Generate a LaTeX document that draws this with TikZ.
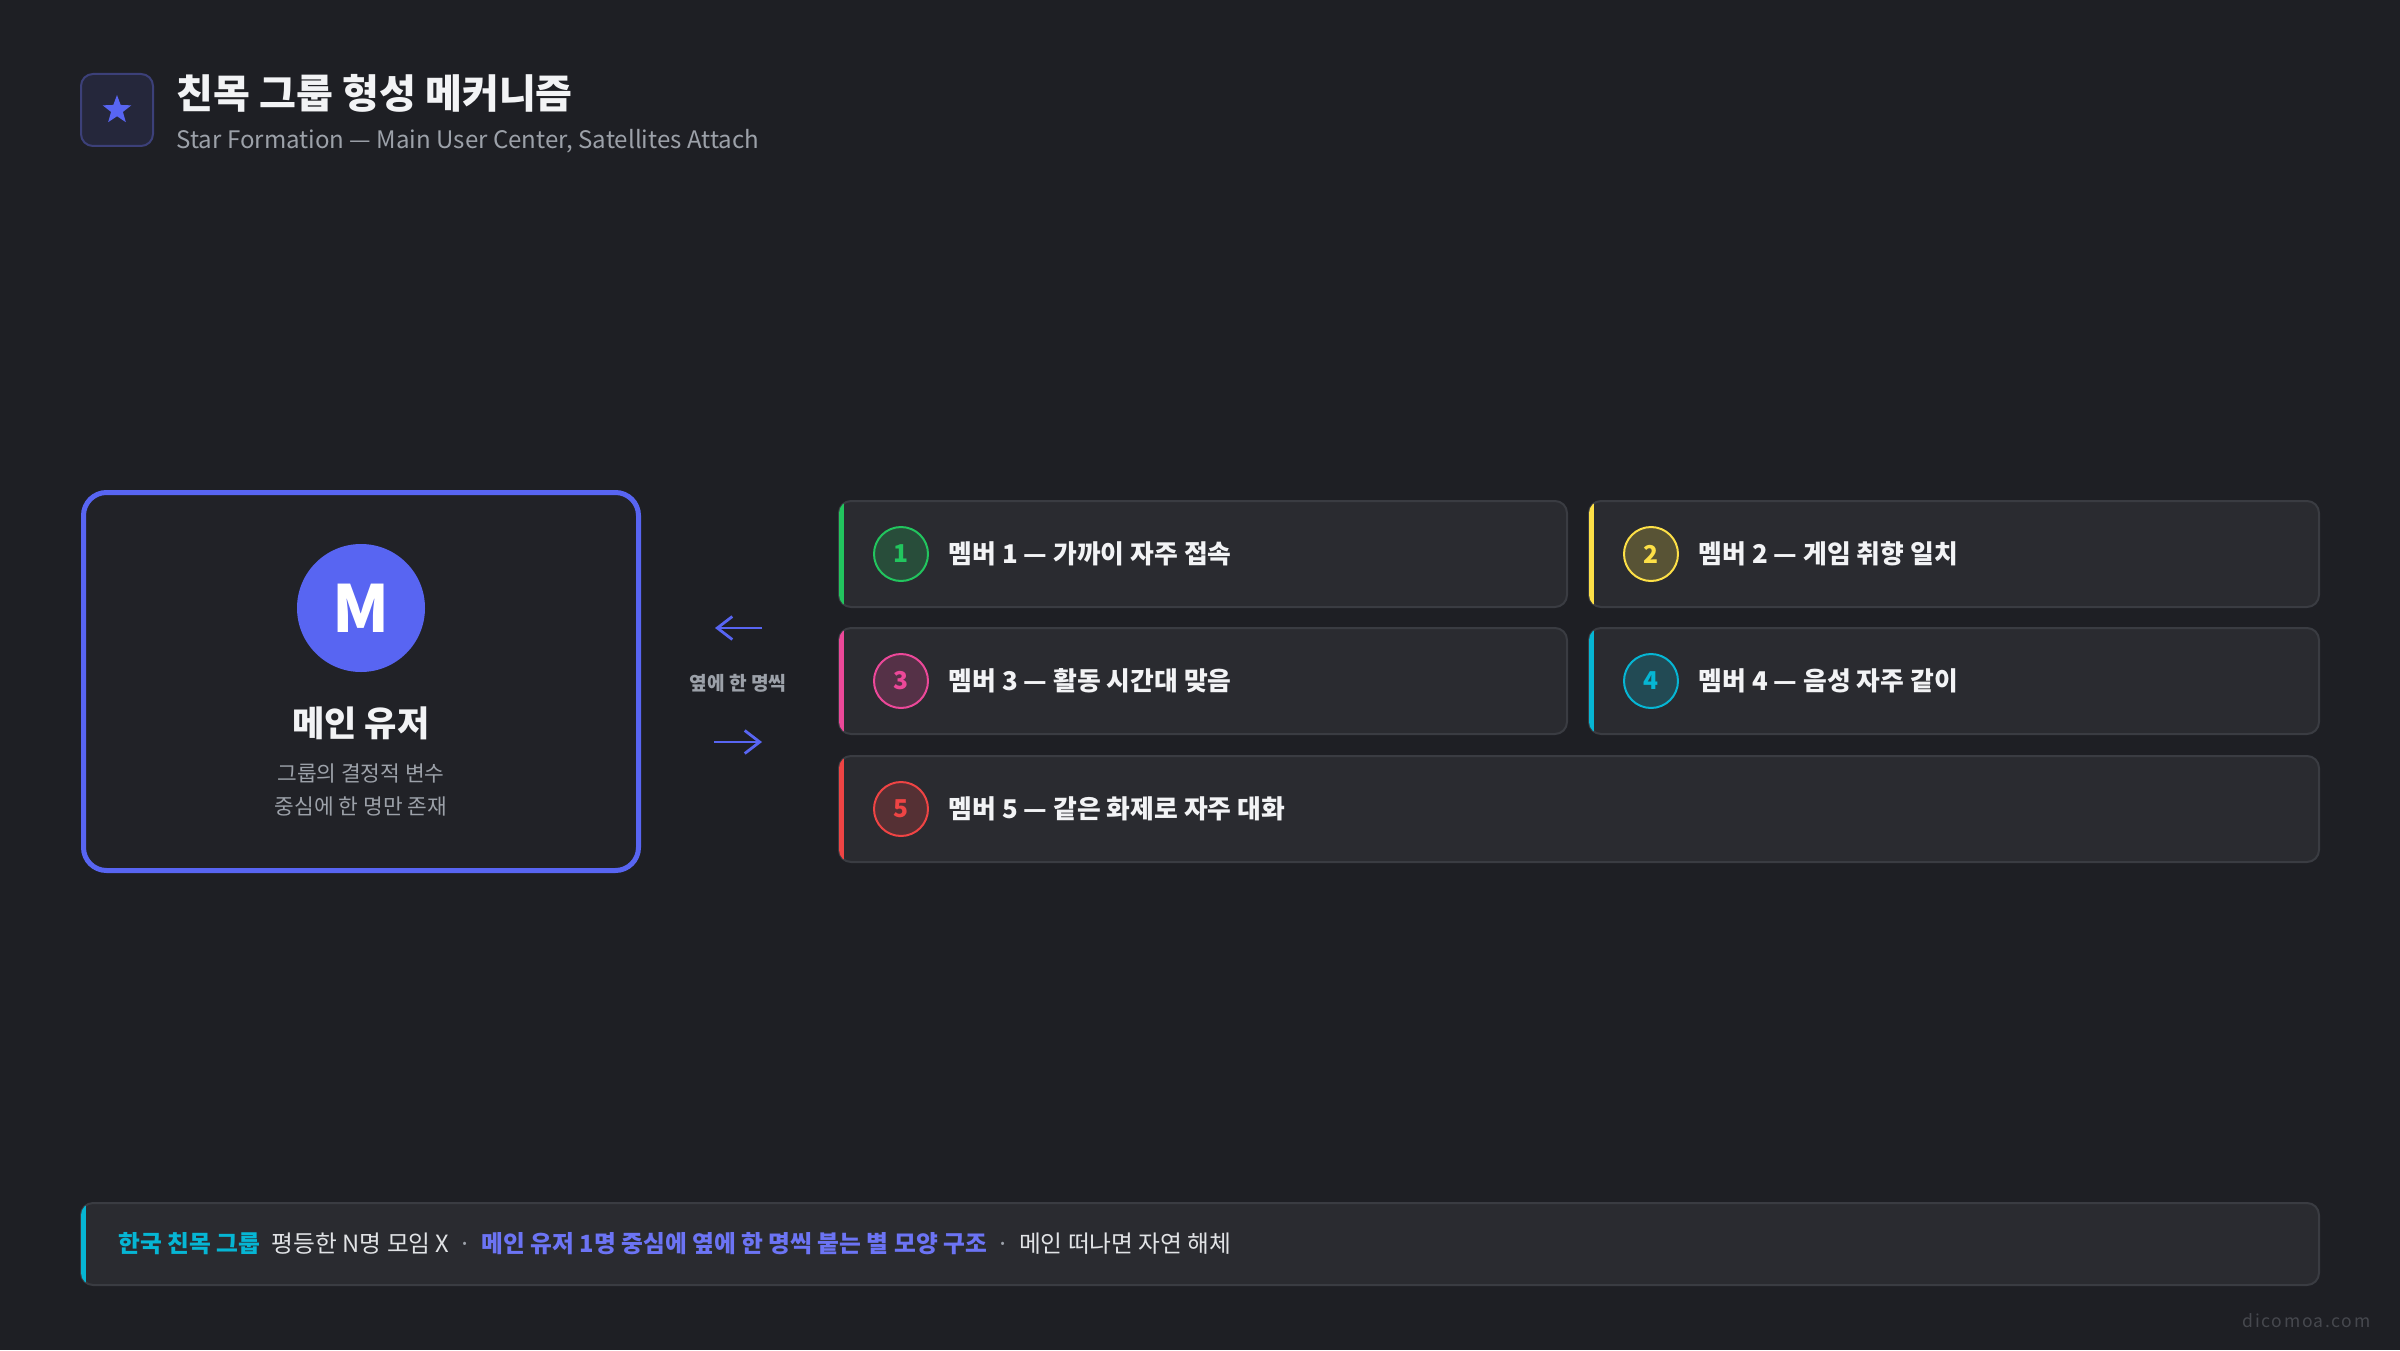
\documentclass[tikz,border=0pt]{standalone}
\usepackage{fontspec}
\setmainfont{Noto Sans CJK KR}
\usetikzlibrary{positioning,shapes.geometric,arrows.meta}

\definecolor{pagebg}{HTML}{1E1F24}
\definecolor{cardbg}{HTML}{2A2B30}
\definecolor{cardline}{HTML}{3A3C42}
\definecolor{mainbg}{HTML}{212227}
\definecolor{blurple}{HTML}{5865F2}
\definecolor{iconbg}{HTML}{25273B}
\definecolor{iconline}{HTML}{3C4079}
\definecolor{subgray}{HTML}{9CA1A9}
\definecolor{txtwhite}{HTML}{F2F3F5}
\definecolor{mgreen}{HTML}{22C55E}
\definecolor{myellow}{HTML}{FDE047}
\definecolor{mpink}{HTML}{EC4899}
\definecolor{mcyan}{HTML}{06B6D4}
\definecolor{mred}{HTML}{EF4444}
\definecolor{marktxt}{HTML}{6C74F4}
\definecolor{wmgray}{HTML}{46484E}

\begin{document}
\begin{tikzpicture}[x=0.1mm,y=-0.1mm]
\tikzstyle{card}=[rectangle, rounded corners=1.2mm, fill=cardbg, draw=cardline, line width=0.2mm, outer sep=0, minimum height=10.6mm, minimum width=72.8mm, anchor=north west]
\tikzstyle{num}=[circle, minimum size=5.4mm, inner sep=0, line width=0.2mm, font=\fontsize{7pt}{8pt}\selectfont\bfseries]
\tikzstyle{cardtxt}=[inner sep=0, text=txtwhite, font=\fontsize{7.35pt}{9pt}\selectfont\bfseries]
\tikzstyle{foot}=[inner sep=0, text=txtwhite!80!subgray, font=\fontsize{6.75pt}{8pt}\selectfont]
\tikzstyle{arr}=[-{Straight Barb[length=1.5mm, width=2.3mm]}, line width=0.28mm, blurple]
  % page
  \fill[pagebg] (0,0) rectangle (2400,1350);
  \useasboundingbox (0,0) rectangle (2400,1350);
  % header
  \node[rectangle, rounded corners=1.2mm, fill=iconbg, draw=iconline, line width=0.2mm, minimum size=7.2mm] (icon) at (117,110) {};
  \node[star, star points=5, star point ratio=2.4, fill=blurple, minimum size=3mm, inner sep=0] (st) at (icon) {};
  \node[inner sep=0, anchor=west, text=txtwhite, font=\fontsize{11.4pt}{14pt}\selectfont\bfseries] (title) at (176,93) {친목 그룹 형성 메커니즘};
  \node[inner sep=0, anchor=west, text=subgray, font=\fontsize{6.85pt}{9pt}\selectfont] (subtitle) at (176,141) {Star Formation — Main User Center, Satellites Attach};
  % main user
  \node[rectangle, rounded corners=2.3mm, fill=mainbg, draw=blurple, line width=0.5mm, minimum width=55.5mm, minimum height=37.8mm] (main) at (361,681.5) {};
  \node[circle, fill=blurple, minimum size=12.8mm, inner sep=0, text=white, font=\fontsize{18.5pt}{20pt}\selectfont\bfseries] (mu) at (361,608) {M};
  \node[inner sep=0, text=txtwhite, font=\fontsize{10pt}{12pt}\selectfont\bfseries] (mname) [below=3.3mm of mu] {메인 유저};
  \node[inner sep=0, text=subgray, align=center, font=\fontsize{6.1pt}{9.4pt}\selectfont] (mdesc) [below=2.3mm of mname] {그룹의 결정적 변수\\중심에 한 명만 존재};
  % arrows
  \coordinate (la0) at (715,628);
  \coordinate (la1) at (762,628);
  \coordinate (ra0) at (714,742);
  \coordinate (ra1) at (762,742);
  \draw[arr] (la1) -- (la0);
  \draw[arr] (ra0) -- (ra1);
  \node[inner sep=0, text=subgray, font=\fontsize{5.45pt}{6pt}\selectfont\bfseries] (side) at (738,683) {옆에 한 명씩};
  % members
  \node[card] (c1) at (839,501) {};
  \node[card, minimum width=73mm] (c2) [right=2.2mm of c1] {};
  \node[card] (c3) [below=2.1mm of c1] {};
  \node[card, minimum width=73mm] (c4) [right=2.2mm of c3] {};
  \node[card, minimum width=148mm] (c5) [below=2.2mm of c3.south west, anchor=north west] {};
  \begin{scope} \clip[rounded corners=1.2mm] (c1.south west) rectangle (c1.north east); \fill[mgreen] (c1.south west) rectangle ([xshift=0.5mm]c1.north west); \end{scope}
  \begin{scope} \clip[rounded corners=1.2mm] (c2.south west) rectangle (c2.north east); \fill[myellow] (c2.south west) rectangle ([xshift=0.5mm]c2.north west); \end{scope}
  \begin{scope} \clip[rounded corners=1.2mm] (c3.south west) rectangle (c3.north east); \fill[mpink] (c3.south west) rectangle ([xshift=0.5mm]c3.north west); \end{scope}
  \begin{scope} \clip[rounded corners=1.2mm] (c4.south west) rectangle (c4.north east); \fill[mcyan] (c4.south west) rectangle ([xshift=0.5mm]c4.north west); \end{scope}
  \begin{scope} \clip[rounded corners=1.2mm] (c5.south west) rectangle (c5.north east); \fill[mred] (c5.south west) rectangle ([xshift=0.5mm]c5.north west); \end{scope}
  % member 1
  \node[num, draw=mgreen, fill=mgreen!22!cardbg, text=mgreen] (n1) [right=3.4mm of c1.west] {1};
  \node[cardtxt] (t1) [right=1.9mm of n1] {멤버 1 — 가까이 자주 접속};
  % member 2
  \node[num, draw=myellow, fill=myellow!22!cardbg, text=myellow] (n2) [right=3.4mm of c2.west] {2};
  \node[cardtxt] (t2) [right=1.9mm of n2] {멤버 2 — 게임 취향 일치};
  % member 3
  \node[num, draw=mpink, fill=mpink!22!cardbg, text=mpink] (n3) [right=3.4mm of c3.west] {3};
  \node[cardtxt] (t3) [right=1.9mm of n3] {멤버 3 — 활동 시간대 맞음};
  % member 4
  \node[num, draw=mcyan, fill=mcyan!22!cardbg, text=mcyan] (n4) [right=3.4mm of c4.west] {4};
  \node[cardtxt] (t4) [right=1.9mm of n4] {멤버 4 — 음성 자주 같이};
  % member 5
  \node[num, draw=mred, fill=mred!22!cardbg, text=mred] (n5) [right=3.4mm of c5.west] {5};
  \node[cardtxt] (t5) [right=1.9mm of n5] {멤버 5 — 같은 화제로 자주 대화};
  % footer bar
  \node[card, minimum width=223.8mm, minimum height=8.2mm] (bar) at (81,1203) {};
  \begin{scope} \clip[rounded corners=1.2mm] (bar.south west) rectangle (bar.north east); \fill[mcyan] (bar.south west) rectangle ([xshift=0.5mm]bar.north west); \end{scope}
  \node[foot, text=mcyan, font=\fontsize{6.75pt}{8pt}\selectfont\bfseries, anchor=west] (f1) at (118,1244) {한국 친목 그룹};
  \node[foot] (f2) [base right=1.0mm of f1] {평등한 N명 모임 X};
  \node[foot, text=subgray] (f3) [base right=0.8mm of f2] {·};
  \node[foot, text=marktxt, font=\fontsize{6.75pt}{8pt}\selectfont\bfseries] (f4) [base right=0.8mm of f3] {메인 유저 1명 중심에 옆에 한 명씩 붙는 별 모양 구조};
  \node[foot, text=subgray] (f5) [base right=0.8mm of f4] {·};
  \node[foot] (f6) [base right=0.8mm of f5] {메인 떠나면 자연 해체};
  % watermark
  \node[inner sep=0, anchor=east, text=wmgray, font=\fontsize{5pt}{6pt}\selectfont\addfontfeatures{LetterSpace=9}] (wm) at (2371,1321) {dicomoa.com};
\end{tikzpicture}
\end{document}
